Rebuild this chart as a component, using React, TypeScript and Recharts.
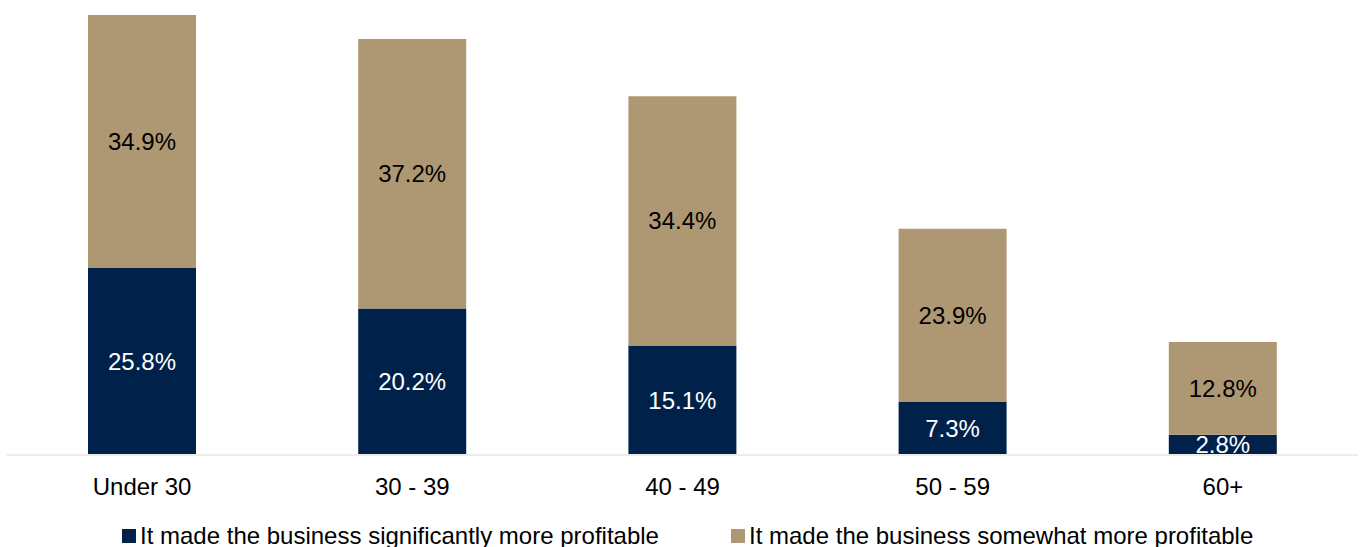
import React from "react";
import { BarChart, Bar, XAxis, YAxis, Legend, LabelList } from "recharts";

const categories = ["Under 30", "30 - 39", "40 - 49", "50 - 59", "60+"];
const significantly = [25.8, 20.2, 15.1, 7.3, 2.8];
const somewhat = [34.9, 37.2, 34.4, 23.9, 12.8];

const seriesNames = [
  "It made the business significantly more profitable",
  "It made the business somewhat more profitable",
];
const NAVY = "#00224A";
const TAN = "#AE9873";
const FONT = "'Liberation Sans', Arial, sans-serif";

const data = categories.map((c, i) => ({
  name: c,
  sig: significantly[i],
  some: somewhat[i],
}));

const fmt = (v: any) => `${Number(v).toFixed(1)}%`;

const LegendContent = () => (
  <div
    style={{
      position: "relative",
      height: 30,
      width: 1364,
      fontFamily: FONT,
      fontSize: 24,
      color: "#000",
    }}
  >
    {[
      { name: seriesNames[0], color: NAVY, left: 122 },
      { name: seriesNames[1], color: TAN, left: 731 },
    ].map((it) => (
      <div
        key={it.name}
        style={{
          position: "absolute",
          left: it.left,
          top: 8,
          height: 22,
          lineHeight: "22px",
          display: "flex",
          alignItems: "center",
          whiteSpace: "nowrap",
        }}
      >
        <span
          style={{
            display: "inline-block",
            width: 14,
            height: 14,
            background: it.color,
            marginRight: 4,
          }}
        />
        <span>{it.name}</span>
      </div>
    ))}
  </div>
);

export default function App() {
  return (
    <div style={{ position: "absolute", left: 0, top: 0, width: 1364, height: 547, background: "#fff" }}>
      <BarChart
        width={1364}
        height={547}
        data={data}
        margin={{ top: 15, right: 6, left: 7, bottom: 0 }}
        barCategoryGap="30%"
        style={{ fontFamily: FONT }}
      >
        <YAxis hide domain={[0, "dataMax"]} />
        <XAxis
          dataKey="name"
          height={62}
          tickLine={false}
          axisLine={{ stroke: "#EDEDE8", strokeWidth: 2 }}
          tickMargin={17}
          tick={{ fill: "#000", fontSize: 24, fontFamily: FONT }}
          interval={0}
        />
        <Legend
          verticalAlign="bottom"
          height={30}
          wrapperStyle={{ left: 0, width: 1364 }}
          content={<LegendContent />}
        />
        <Bar dataKey="sig" stackId="a" fill={NAVY} barSize={108} isAnimationActive={false} name={seriesNames[0]}>
          <LabelList dataKey="sig" position="center" formatter={fmt} fill="#fff" fontSize={24} fontFamily={FONT} />
        </Bar>
        <Bar dataKey="some" stackId="a" fill={TAN} barSize={108} isAnimationActive={false} name={seriesNames[1]}>
          <LabelList dataKey="some" position="center" formatter={fmt} fill="#000" fontSize={24} fontFamily={FONT} />
        </Bar>
      </BarChart>
    </div>
  );
}
